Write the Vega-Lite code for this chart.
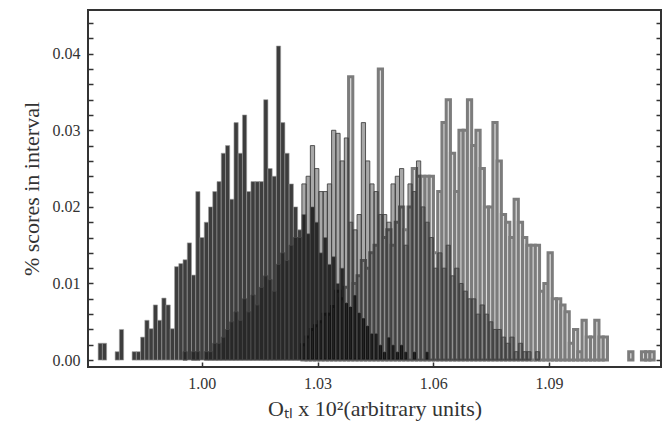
{
  "$schema": "https://vega.github.io/schema/vega-lite/v6.json",
  "width": 573,
  "height": 357,
  "autosize": {"type": "none"},
  "padding": {"left": 88, "top": 10, "right": 6, "bottom": 55},
  "background": "white",
  "datasets": {
    "D": [
      {"x":0.97355,"p":0.0022},{"x":0.97465,"p":0.0022},{"x":0.97795,"p":0.0011},{"x":0.97905,"p":0.004},
      {"x":0.98235,"p":0.0011},{"x":0.98345,"p":0.0011},{"x":0.98455,"p":0.003},{"x":0.98565,"p":0.0052},
      {"x":0.98675,"p":0.0041},{"x":0.98785,"p":0.0072},{"x":0.98895,"p":0.0052},{"x":0.99005,"p":0.0081},
      {"x":0.99115,"p":0.0072},{"x":0.99225,"p":0.0041},{"x":0.99335,"p":0.0122},{"x":0.99445,"p":0.0126},
      {"x":0.99555,"p":0.0131},{"x":0.99665,"p":0.0153},{"x":0.99775,"p":0.0111},{"x":0.99885,"p":0.022},
      {"x":0.99995,"p":0.016},{"x":1.00105,"p":0.018},{"x":1.00215,"p":0.020},{"x":1.00325,"p":0.022},
      {"x":1.00435,"p":0.0233},{"x":1.00545,"p":0.027},{"x":1.00655,"p":0.028},{"x":1.00765,"p":0.021},
      {"x":1.00875,"p":0.031},{"x":1.00985,"p":0.027},{"x":1.01095,"p":0.032},{"x":1.01205,"p":0.022},
      {"x":1.01315,"p":0.0233},{"x":1.01425,"p":0.0233},{"x":1.01535,"p":0.0233},{"x":1.01645,"p":0.034},
      {"x":1.01755,"p":0.025},{"x":1.01865,"p":0.024},{"x":1.01975,"p":0.041},{"x":1.02085,"p":0.031},
      {"x":1.02195,"p":0.027},{"x":1.02305,"p":0.023},{"x":1.02415,"p":0.020},{"x":1.02525,"p":0.017},
      {"x":1.02635,"p":0.019},{"x":1.02745,"p":0.0165},{"x":1.02855,"p":0.020},{"x":1.02965,"p":0.018},
      {"x":1.03075,"p":0.014},{"x":1.03185,"p":0.016},{"x":1.03295,"p":0.0125},{"x":1.03405,"p":0.0135},
      {"x":1.03515,"p":0.010},{"x":1.03625,"p":0.012},{"x":1.03735,"p":0.0075},{"x":1.03845,"p":0.007},
      {"x":1.03955,"p":0.0085},{"x":1.04065,"p":0.0062},{"x":1.04175,"p":0.0055},{"x":1.04285,"p":0.0045},
      {"x":1.04395,"p":0.0035},{"x":1.04505,"p":0.0035},{"x":1.04615,"p":0.002},{"x":1.04725,"p":0.0011},
      {"x":1.04835,"p":0.003},{"x":1.04945,"p":0.002},{"x":1.05055,"p":0.0011},{"x":1.05165,"p":0.002},
      {"x":1.05275,"p":0.0011},{"x":1.05495,"p":0.0011},{"x":1.05825,"p":0.0011}
    ],
    "M": [
      {"x":0.99555,"p":0.0011},{"x":0.99775,"p":0.0011},{"x":0.99885,"p":0.0011},{"x":1.00105,"p":0.0011},
      {"x":1.00215,"p":0.0011},{"x":1.00325,"p":0.0022},{"x":1.00435,"p":0.0022},{"x":1.00545,"p":0.003},
      {"x":1.00655,"p":0.004},{"x":1.00765,"p":0.005},{"x":1.00875,"p":0.0063},{"x":1.00985,"p":0.0052},
      {"x":1.01095,"p":0.008},{"x":1.01205,"p":0.0063},{"x":1.01315,"p":0.0085},{"x":1.01425,"p":0.0072},
      {"x":1.01535,"p":0.0095},{"x":1.01645,"p":0.011},{"x":1.01755,"p":0.0105},{"x":1.01865,"p":0.009},
      {"x":1.01975,"p":0.0125},{"x":1.02085,"p":0.014},{"x":1.02195,"p":0.013},{"x":1.02305,"p":0.015},
      {"x":1.02415,"p":0.016},{"x":1.02525,"p":0.016},{"x":1.02635,"p":0.023},{"x":1.02745,"p":0.024},
      {"x":1.02855,"p":0.028},{"x":1.02965,"p":0.025},{"x":1.03075,"p":0.022},{"x":1.03185,"p":0.022},
      {"x":1.03295,"p":0.023},{"x":1.03405,"p":0.030},{"x":1.03515,"p":0.0296},{"x":1.03625,"p":0.026},
      {"x":1.03735,"p":0.029},{"x":1.03845,"p":0.018},{"x":1.03955,"p":0.017},{"x":1.04065,"p":0.019},
      {"x":1.04175,"p":0.031},{"x":1.04285,"p":0.026},{"x":1.04395,"p":0.023},{"x":1.04505,"p":0.022},
      {"x":1.04615,"p":0.019},{"x":1.04725,"p":0.019},{"x":1.04835,"p":0.018},{"x":1.04945,"p":0.023},
      {"x":1.05055,"p":0.024},{"x":1.05165,"p":0.025},{"x":1.05275,"p":0.015},{"x":1.05385,"p":0.023},
      {"x":1.05495,"p":0.022},{"x":1.05605,"p":0.026},{"x":1.05715,"p":0.020},{"x":1.05825,"p":0.018},
      {"x":1.05935,"p":0.016},{"x":1.06045,"p":0.012},{"x":1.06155,"p":0.014},{"x":1.06265,"p":0.012},
      {"x":1.06375,"p":0.015},{"x":1.06485,"p":0.011},{"x":1.06595,"p":0.012},{"x":1.06705,"p":0.010},
      {"x":1.06815,"p":0.009},{"x":1.06925,"p":0.008},{"x":1.07035,"p":0.008},{"x":1.07145,"p":0.006},
      {"x":1.07255,"p":0.0072},{"x":1.07365,"p":0.006},{"x":1.07475,"p":0.005},{"x":1.07585,"p":0.004},
      {"x":1.07695,"p":0.004},{"x":1.07805,"p":0.003},{"x":1.07915,"p":0.0022},{"x":1.08025,"p":0.003},
      {"x":1.08135,"p":0.0011},{"x":1.08245,"p":0.0022},{"x":1.08355,"p":0.0011},{"x":1.08465,"p":0.0011},
      {"x":1.08685,"p":0.0011}
    ],
    "L": [
      {"x":1.02635,"p":0.002},{"x":1.02745,"p":0.003},{"x":1.02855,"p":0.004},{"x":1.02965,"p":0.0045},
      {"x":1.03075,"p":0.005},{"x":1.03185,"p":0.006},{"x":1.03295,"p":0.006},{"x":1.03405,"p":0.007},
      {"x":1.03515,"p":0.009},{"x":1.03625,"p":0.008},{"x":1.03735,"p":0.0095},{"x":1.03845,"p":0.037},
      {"x":1.03955,"p":0.010},{"x":1.04065,"p":0.011},{"x":1.04175,"p":0.013},{"x":1.04285,"p":0.012},
      {"x":1.04395,"p":0.014},{"x":1.04505,"p":0.015},{"x":1.04615,"p":0.038},{"x":1.04725,"p":0.016},
      {"x":1.04835,"p":0.017},{"x":1.04945,"p":0.015},{"x":1.05055,"p":0.018},{"x":1.05165,"p":0.020},
      {"x":1.05275,"p":0.017},{"x":1.05385,"p":0.020},{"x":1.05495,"p":0.025},{"x":1.05605,"p":0.024},
      {"x":1.05715,"p":0.024},{"x":1.05825,"p":0.024},{"x":1.05935,"p":0.024},{"x":1.06045,"p":0.014},
      {"x":1.06155,"p":0.022},{"x":1.06265,"p":0.031},{"x":1.06375,"p":0.034},{"x":1.06485,"p":0.027},
      {"x":1.06595,"p":0.022},{"x":1.06705,"p":0.030},{"x":1.06815,"p":0.030},{"x":1.06925,"p":0.034},
      {"x":1.07035,"p":0.028},{"x":1.07145,"p":0.030},{"x":1.07255,"p":0.025},{"x":1.07365,"p":0.020},
      {"x":1.07475,"p":0.020},{"x":1.07585,"p":0.031},{"x":1.07695,"p":0.026},{"x":1.07805,"p":0.019},
      {"x":1.07915,"p":0.018},{"x":1.08025,"p":0.016},{"x":1.08135,"p":0.021},{"x":1.08245,"p":0.018},
      {"x":1.08355,"p":0.016},{"x":1.08465,"p":0.015},{"x":1.08575,"p":0.015},{"x":1.08685,"p":0.015},
      {"x":1.08795,"p":0.009},{"x":1.08905,"p":0.010},{"x":1.09015,"p":0.014},{"x":1.09125,"p":0.008},
      {"x":1.09235,"p":0.008},{"x":1.09345,"p":0.0072},{"x":1.09455,"p":0.0063},{"x":1.09565,"p":0.0022},
      {"x":1.09675,"p":0.004},{"x":1.09785,"p":0.0011},{"x":1.09895,"p":0.0052},{"x":1.10005,"p":0.003},
      {"x":1.10115,"p":0.003},{"x":1.10225,"p":0.0052},{"x":1.10335,"p":0.003},{"x":1.10445,"p":0.003},
      {"x":1.11105,"p":0.0011},{"x":1.11435,"p":0.0011},{"x":1.11545,"p":0.0011},{"x":1.11655,"p":0.0011}
    ]
  },
  "config": {
    "font": "Liberation Serif",
    "view": {"stroke": "#333333", "strokeWidth": 2},
    "axis": {
      "labelFont": "Liberation Serif",
      "titleFont": "Liberation Serif",
      "labelFontSize": 16,
      "titleFontSize": 22,
      "titleFontWeight": "normal",
      "labelColor": "#333333",
      "titleColor": "#333333",
      "tickColor": "#333333",
      "tickWidth": 1.5,
      "grid": false,
      "domain": false
    }
  },
  "encoding": {
    "x": {
      "field": "x",
      "type": "quantitative",
      "bin": {"step": 0.0011, "anchor": 0.973, "extent": [0.973, 1.1198], "nice": false},
      "scale": {"domain": [0.9705, 1.119], "nice": false, "zero": false},
      "axis": {
        "values": [1.0, 1.03, 1.06, 1.09],
        "format": ".2f",
        "tickSize": -5,
        "labelPadding": 13,
        "labelFlush": false,
        "title": "Oₜₗ x 10²(arbitrary units)",
        "titlePadding": 7
      }
    },
    "y2": {"datum": 0}
  },
  "layer": [
    {
      "data": {"name": "L"},
      "mark": {"type": "bar", "binSpacing": 0, "fill": "#dcdcdc", "stroke": "#7c7c7c", "strokeWidth": 3},
      "encoding": {
        "y": {
          "field": "p", "type": "quantitative", "aggregate": "sum", "stack": null,
          "scale": {"domain": [-0.0009, 0.0457], "nice": false, "zero": false},
          "axis": {
            "orient": "left",
            "values": [0,0.002,0.004,0.006,0.008,0.01,0.012,0.014,0.016,0.018,0.02,0.022,0.024,0.026,0.028,0.03,0.032,0.034,0.036,0.038,0.04,0.042,0.044],
            "labelExpr": "abs(datum.value*100 - round(datum.value*100)) < 0.01 ? format(datum.value, '.2f') : ''",
            "tickSize": -5,
            "labelPadding": 13,
            "title": "% scores in interval",
            "titlePadding": 9
          }
        }
      }
    },
    {
      "data": {"name": "D"},
      "mark": {"type": "bar", "binSpacing": 0, "fill": "#000000", "fillOpacity": 0.76, "stroke": "#a0a0a0", "strokeWidth": 0.6},
      "encoding": {
        "y": {
          "field": "p", "type": "quantitative", "aggregate": "sum", "stack": null,
          "scale": {"domain": [-0.0009, 0.0457], "nice": false, "zero": false},
          "axis": {
            "orient": "right",
            "values": [0,0.002,0.004,0.006,0.008,0.01,0.012,0.014,0.016,0.018,0.02,0.022,0.024,0.026,0.028,0.03,0.032,0.034,0.036,0.038,0.04,0.042,0.044],
            "labels": false,
            "tickSize": -5,
            "title": null
          }
        }
      }
    },
    {
      "data": {"name": "M"},
      "mark": {"type": "bar", "binSpacing": 0, "fill": "#000000", "fillOpacity": 0.34, "stroke": "#444444", "strokeWidth": 0.9},
      "encoding": {
        "y": {
          "field": "p", "type": "quantitative", "aggregate": "sum", "stack": null,
          "scale": {"domain": [-0.0009, 0.0457], "nice": false, "zero": false},
          "axis": null
        }
      }
    }
  ],
  "resolve": {"axis": {"y": "independent"}}
}
